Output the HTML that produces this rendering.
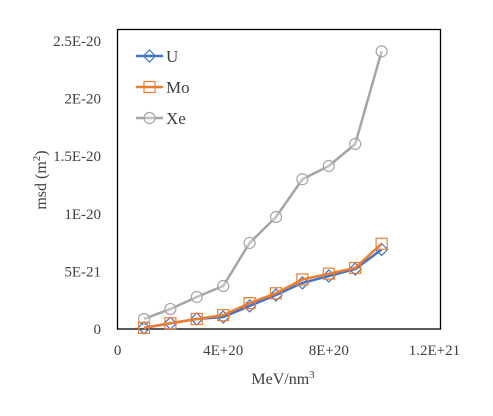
<!DOCTYPE html>
<html><head><meta charset="utf-8"><style>
body{margin:0;background:#fff;}
svg text{font-family:"Liberation Serif",serif;fill:#404040;}
</style></head><body>
<svg width="493" height="411" id="c">
<rect x="0" y="0" width="493" height="411" fill="#fff"/>
<rect x="117.5" y="29.5" width="323" height="299.5" fill="none" stroke="#000" stroke-width="1.3"/>
<g id="yt"></g>
<g id="xt"></g>
<g id="series"></g>
<text x="46" y="180" font-size="16" text-anchor="middle" transform="rotate(-90 46 180)">msd (m<tspan font-size="11" dy="-6">2</tspan><tspan dy="6">)</tspan></text>
<text x="283" y="384" font-size="16" text-anchor="middle">MeV/nm<tspan font-size="11" dy="-6">3</tspan></text>
<g id="legend"></g>
</svg>
<script>
const xValues=[1e20,2e20,3e20,4e20,5e20,6e20,7e20,8e20,9e20,1e21];
const uValues=[0.1e-21,0.5e-21,0.87e-21,1.04e-21,2.0e-21,2.95e-21,4.0e-21,4.6e-21,5.2e-21,6.9e-21];
const moValues=[0.1e-21,0.5e-21,0.87e-21,1.2e-21,2.25e-21,3.1e-21,4.3e-21,4.8e-21,5.3e-21,7.4e-21];
const xeValues=[0.87e-21,1.74e-21,2.78e-21,3.73e-21,7.47e-21,9.72e-21,13.0e-21,14.15e-21,16.06e-21,24.1e-21];
const yTickValues=[0,5e-21,1e-20,1.5e-20,2e-20,2.5e-20];
const yTickLabels=["0","5E-21","1E-20","1.5E-20","2E-20","2.5E-20"];
const xTickValues=[0,4e20,8e20,1.2e21];
const xTickLabels=["0","4E+20","8E+20","1.2E+21"];
const NS="http://www.w3.org/2000/svg";
function X(v){return 117.6+v/1e20*26.4;}
function Y(v){return 329-v/5e-21*57.6;}
function mk(t,a,p){const e=document.createElementNS(NS,t);for(const k in a)e.setAttribute(k,a[k]);p.appendChild(e);return e;}
const yt=document.getElementById('yt'),xt=document.getElementById('xt');
yTickValues.forEach((v,i)=>{const t=mk('text',{x:101,y:Y(v)+5,'font-size':15,'text-anchor':'end'},yt);


t.textContent=yTickLabels[i];});
xTickValues.forEach((v,i)=>{const t=mk('text',{x:X(v),y:355,'font-size':15,'text-anchor':'middle'},xt);


t.textContent=xTickLabels[i];});
const sg=document.getElementById('series');
function marker(kind,cx,cy,col,g){let e;
if(kind==='c')e=mk('circle',{cx:cx,cy:cy,r:5.5,fill:'#fff','fill-opacity':0.3,stroke:col,'stroke-width':1.2},g);
else if(kind==='s')e=mk('rect',{x:cx-5.5,y:cy-5.5,width:11,height:11,fill:'none',stroke:col,'stroke-width':1.2},g);
else e=mk('path',{d:`M${cx} ${cy-6}L${cx+6} ${cy}L${cx} ${cy+6}L${cx-6} ${cy}Z`,fill:'none',stroke:col,'stroke-width':1.2},g);
return e;}
function series(vals,col,kind,name){const g=mk('g',{},sg);


const d=vals.map((v,i)=>(i?'L':'M')+X(xValues[i])+' '+Y(v)).join('');
const p=mk('path',{d:d,fill:'none',stroke:col,'stroke-width':2.5,'stroke-linejoin':'round'},g);


vals.forEach((v,i)=>{const m=marker(kind,X(xValues[i]),Y(v),col,g);

});}
series(xeValues,'#a5a5a5','c','xe');
series(uValues,'#4472c4','d','u');
series(moValues,'#ed7d31','s','mo');
const lg=document.getElementById('legend');
[['U','#4472c4','d',56],['Mo','#ed7d31','s',87],['Xe','#a5a5a5','c',118]].forEach(r=>{
const g=mk('g',{},lg);


mk('line',{x1:136,x2:163,y1:r[3],y2:r[3],stroke:r[1],'stroke-width':2.5},g);
marker(r[2],149.5,r[3],r[1],g);
const t=mk('text',{x:166,y:r[3]+6,'font-size':17},g);t.textContent=r[0];});
</script>
</body></html>
